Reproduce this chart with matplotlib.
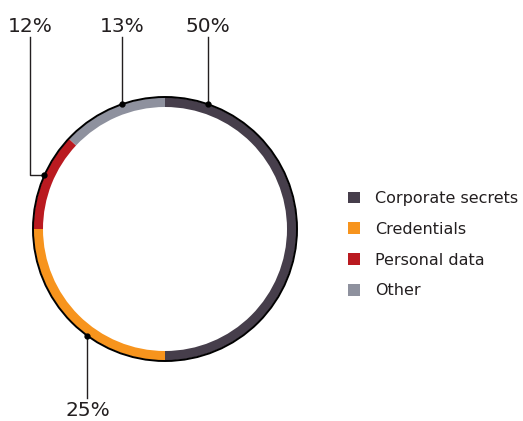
import numpy as np
import matplotlib
matplotlib.use("Agg")
import matplotlib.pyplot as plt
from matplotlib.patches import Circle, Patch

# leaked data types, share of cases
categories = ["Corporate secrets", "Credentials", "Personal data", "Other"]
shares = [50, 25, 12, 13]
colors = ["#463e4b", "#f7941d", "#ba1a20", "#8e919e"]

plt.rcParams['font.family'] = ['DejaVu Sans']
ink = "#231f20"

W, H = 523, 421
fig = plt.figure(figsize=(W / 100, H / 100), dpi=100)
ax = fig.add_axes([0, 0, 1, 1])

cx, cy = 165, H - 229
R = 132
wedges, _ = ax.pie(shares, colors=colors, startangle=90, counterclock=False,
                   center=(cx, cy), radius=R - 0.5, frame=True,
                   wedgeprops=dict(width=9.5, linewidth=0))
ax.set_xlim(0, W)
ax.set_ylim(0, H)
ax.set_aspect('equal')
ax.axis('off')
ax.add_patch(Circle((cx, cy), R, fill=False, ec="black", lw=1.4, zorder=3))


def ring_point(deg):
    a = np.radians(deg)
    return cx + R * np.cos(a), cy + R * np.sin(a)

# leader lines: category index, angle on ring (deg), path style, elbow x
leaders = [
    (0, 90 - 19, "up", None),
    (3, 90 + 19, "up", None),
    (2, 180 - 24, "elbow", 30),
    (1, 270 - 36, "down", None),
]
for i, deg, kind, lx in leaders:
    px, py = ring_point(deg)
    if kind == "up":
        xs, ys = [px, px], [py, H - 37]
        tx, ty = px, H - 32
    elif kind == "elbow":
        xs, ys = [px, lx, lx], [py, py, H - 37]
        tx, ty = lx, H - 32
    else:
        xs, ys = [px, px], [py, H - 398]
        tx, ty = px, H - 416
    ax.plot(xs, ys, color=ink, lw=1.0, zorder=4)
    ax.plot([px], [py], 'o', color="black", ms=3.5, zorder=5)
    ax.text(tx, ty, f"{shares[i]}%", ha='center', va='baseline', fontsize=14.5, color=ink)

handles = [Patch(facecolor=c, edgecolor='none') for c in colors]
ax.legend(handles, categories, loc='upper left', bbox_to_anchor=(348 / W, 1 - 191 / H),
          frameon=False, fontsize=11.5, handlelength=0.75, handleheight=0.75,
          handletextpad=0.94, labelspacing=0.99, borderaxespad=0, borderpad=0,
          labelcolor=ink)

fig.savefig("out.png", dpi=100)
